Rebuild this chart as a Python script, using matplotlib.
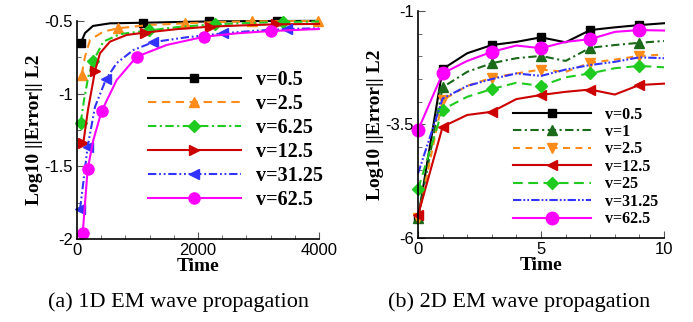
import matplotlib
matplotlib.use("Agg")
import matplotlib.pyplot as plt
from matplotlib.ticker import MultipleLocator

plt.rcParams['axes.unicode_minus'] = False
plt.rcParams['lines.scale_dashes'] = False

# ---------------- data: (a) 1D EM wave propagation ----------------
labels_1d = ["v=0.5", "v=2.5", "v=6.25", "v=12.5", "v=31.25", "v=62.5"]
t_1d_a = [66, 132, 264, 545, 1091, 1650, 2190, 2750, 3300, 4000]
e_1d_a = [-0.649, -0.583, -0.534, -0.516, -0.512, -0.507, -0.503, -0.501, -0.500, -0.499]
t_1d_b = [77, 132, 215, 435, 683, 1200, 1785, 2350, 2898, 3450, 3990]
e_1d_b = [-0.87, -0.746, -0.631, -0.573, -0.55, -0.527, -0.516, -0.507, -0.502, -0.501, -0.50]
t_1d_c = [61, 116, 187, 270, 435, 711, 1190, 1700, 2281, 2850, 3410, 4000]
e_1d_c = [-1.20, -1.044, -0.883, -0.775, -0.642, -0.59, -0.565, -0.54, -0.523, -0.513, -0.507, -0.503]
t_1d_d = [105, 182, 298, 380, 545, 821, 1120, 1650, 2198, 2750, 3290, 4000]
e_1d_d = [-1.337, -1.11, -0.843, -0.722, -0.642, -0.596, -0.58, -0.556, -0.539, -0.53, -0.523, -0.52]
t_1d_e = [50, 176, 298, 479, 656, 931, 1262, 1813, 2408, 2950, 3476, 4000]
e_1d_e = [-1.796, -1.365, -1.09, -0.901, -0.79, -0.70, -0.645, -0.612, -0.585, -0.567, -0.555, -0.55]
t_1d_f = [94, 176, 270, 408, 656, 986, 1482, 2105, 2640, 3201, 4000]
e_1d_f = [-1.961, -1.52, -1.319, -1.119, -0.906, -0.746, -0.665, -0.608, -0.585, -0.569, -0.555]
marks_1d = [[0, 4, 6, 8], [0, 4, 6, 8, 10], [0, 3, 6, 8, 10],
            [0, 2, 6, 8, 10], [0, 1, 3, 6, 8, 10], [0, 1, 3, 5, 7, 9]]

# ---------------- data: (b) 2D EM wave propagation ----------------
labels_2d = ["v=0.5", "v=1", "v=2.5", "v=12.5", "v=25", "v=31.25", "v=62.5"]
t_2d = [0, 1, 2, 3, 4, 5, 6, 7, 8, 9, 10]
e_2d_a = [-5.57, -2.28, -1.93, -1.75, -1.68, -1.58, -1.69, -1.42, -1.36, -1.31, -1.27]
e_2d_b = [-5.57, -2.68, -2.34, -2.15, -2.04, -1.99, -2.10, -1.81, -1.75, -1.70, -1.66]
e_2d_c = [-5.57, -2.96, -2.65, -2.47, -2.375, -2.29, -2.34, -2.14, -2.07, -1.99, -1.96]
e_2d_d = [-5.50, -3.55, -3.29, -3.22, -2.94, -2.85, -2.78, -2.73, -2.84, -2.63, -2.60]
e_2d_e = [-4.93, -3.17, -2.89, -2.72, -2.58, -2.65, -2.46, -2.375, -2.26, -2.21, -2.24]
e_2d_f = [-4.58, -2.93, -2.65, -2.50, -2.375, -2.43, -2.29, -2.19, -2.12, -2.02, -2.04]
e_2d_g = [-3.625, -2.375, -2.10, -1.90, -1.76, -1.82, -1.68, -1.62, -1.46, -1.42, -1.43]
marks_2d = [0, 1, 3, 5, 7, 9]

# ---------------- styles ----------------
C_BLACK = "#000000"
C_ORANGE = "#ff8c1a"
C_GREEN = "#1ecb1e"
C_DKGREEN = "#1a6a1a"
C_RED = "#cc0000"
C_BLUE = "#3333ff"
C_MAG = "#ff00ff"

TICK_FONT = dict(family="Liberation Sans", size=12)
LABEL_FONT = dict(family="Liberation Serif", size=14, weight="bold")

fig = plt.figure(figsize=(6.93, 3.22), dpi=100)
ax1 = fig.add_axes([77 / 693, 1 - 239 / 322, 242 / 693, 218 / 322])
ax2 = fig.add_axes([418 / 693, 1 - 238 / 322, 246 / 693, 227 / 322])

lw = 1.5
styles_1d = [
    dict(color=C_BLACK, ls="-", marker="s", ms=6),
    dict(color=C_ORANGE, dashes=(6, 4), marker="^", ms=7),
    dict(color=C_GREEN, dashes=(6, 2.5, 1.5, 2.5), marker="D", ms=6),
    dict(color=C_RED, ls="-", marker=">", ms=7),
    dict(color=C_BLUE, dashes=(6, 2, 1.3, 2, 1.3, 2), marker="<", ms=7),
    dict(color=C_MAG, ls="-", marker="o", ms=8),
]
ts_1d = [t_1d_a, t_1d_b, t_1d_c, t_1d_d, t_1d_e, t_1d_f]
es_1d = [e_1d_a, e_1d_b, e_1d_c, e_1d_d, e_1d_e, e_1d_f]
for t, e, lab, st, mk in zip(ts_1d, es_1d, labels_1d, styles_1d, marks_1d):
    ax1.plot(t, e, label=lab, lw=lw, markevery=mk, clip_on=False, **st)

styles_2d = [
    dict(color=C_BLACK, ls="-", marker="s", ms=6),
    dict(color=C_DKGREEN, dashes=(6, 2.5, 1.5, 2.5), marker="^", ms=7),
    dict(color=C_ORANGE, dashes=(5, 4), marker="v", ms=7),
    dict(color=C_RED, ls="-", marker="<", ms=7),
    dict(color=C_GREEN, dashes=(7, 4), marker="D", ms=6),
    dict(color=C_BLUE, dashes=(6, 1.5, 1.3, 1.5, 1.3, 1.5), marker=None, ms=0),
    dict(color=C_MAG, ls="-", marker="o", ms=9),
]
es_2d = [e_2d_a, e_2d_b, e_2d_c, e_2d_d, e_2d_e, e_2d_f, e_2d_g]
for e, lab, st in zip(es_2d, labels_2d, styles_2d):
    ax2.plot(t_2d, e, label=lab, lw=lw, markevery=marks_2d, clip_on=False, **st)

for ax in (ax1, ax2):
    for s in ("top", "right"):
        ax.spines[s].set_visible(False)
    for s in ("left", "bottom"):
        ax.spines[s].set_linewidth(1.2)
    ax.tick_params(which="both", direction="in", pad=3, color="#555555")
    ax.tick_params(which="major", length=5, width=0.8)
    ax.tick_params(which="minor", length=3, width=0.6)
    ax.set_xlabel("Time", labelpad=0, **LABEL_FONT)
    ax.set_ylabel("Log10 ||Error|| L2", labelpad=1, **LABEL_FONT)

ax1.set_xlim(0, 4000)
ax1.set_ylim(-2, -0.5)
ax1.set_xticks([0, 2000, 4000])
ax1.set_xticklabels(["0", "2000", "4000"], **TICK_FONT)
ax1.xaxis.set_minor_locator(MultipleLocator(400))
ax1.set_yticks([-2, -1.5, -1, -0.5])
ax1.set_yticklabels(["-2", "-1.5", "-1", "-0.5"], **TICK_FONT)
ax1.yaxis.set_minor_locator(MultipleLocator(0.25))

ax2.set_xlim(0, 10)
ax2.set_ylim(-6, -1)
ax2.set_xticks([0, 5, 10])
ax2.set_xticklabels(["0", "5", "10"], **TICK_FONT)
ax2.xaxis.set_minor_locator(MultipleLocator(1))
ax2.set_yticks([-6, -3.5, -1])
ax2.set_yticklabels(["-6", "-3.5", "-1"], **TICK_FONT)
ax2.yaxis.set_minor_locator(MultipleLocator(0.5))

ax1.legend(loc="upper left", bbox_to_anchor=(0.293, 0.775), frameon=False,
           borderpad=0, borderaxespad=0, numpoints=1, handlelength=4.6,
           handletextpad=0.75, labelspacing=0.2,
           prop=dict(family="Liberation Serif", size=14.5, weight="bold"))
ax2.legend(loc="upper left", bbox_to_anchor=(0.385, 0.579), frameon=False,
           borderpad=0, borderaxespad=0, numpoints=1, handlelength=4.9,
           handletextpad=0.9, labelspacing=0.09,
           prop=dict(family="Liberation Serif", size=11.5, weight="bold"))

fig.text(179 / 693, 1 - 302 / 322, "(a) 1D EM wave propagation", ha="center", va="center",
         family="Liberation Serif", size=16)
fig.text(519 / 693, 1 - 302 / 322, "(b) 2D EM wave propagation", ha="center", va="center",
         family="Liberation Serif", size=16)

fig.savefig("out.png", dpi=100)
